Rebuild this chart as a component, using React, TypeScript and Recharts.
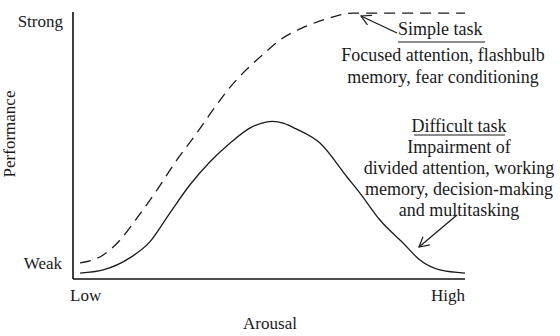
import { LineChart, Line, XAxis, YAxis, Customized } from 'recharts';

// Arousal (0 = low, 100 = high) against performance (0 = weak, 100 = strong)
const simpleArousal = [1.8, 7.7, 12, 16.3, 21.4, 26.5, 31.6, 35.7, 39.5, 43.4, 47.7, 52.8, 59.7, 65.6, 71.4, 85, 100];
const simplePerformance = [6, 9, 14.6, 22.8, 33.3, 44.6, 54.7, 63.3, 70.8, 77.2, 83.1, 89.5, 94.8, 97.8, 99.6, 99.6, 99.6];

const difficultArousal = [1.8, 7.7, 14.5, 19.6, 24.7, 29.8, 34.9, 40.1, 45.2, 48, 50.8, 53.8, 56.8, 63, 69.9, 73.2, 78.3, 84.2, 88.5, 93.6, 100];
const difficultPerformance = [2.2, 3.4, 7.9, 13.9, 24.7, 35.2, 43.8, 50.9, 56.6, 58.3, 59, 58.3, 56.3, 50.9, 38.2, 32.2, 22.1, 13.5, 7.1, 3.4, 2.2];

const simpleNotes = ['Focused attention, flashbulb', 'memory, fear conditioning'];
const difficultNotes = ['Impairment of', 'divided attention, working', 'memory, decision-making', 'and multitasking'];

const simpleTask = simpleArousal.map((arousal, i) => ({ arousal, performance: simplePerformance[i] }));
const difficultTask = difficultArousal.map((arousal, i) => ({ arousal, performance: difficultPerformance[i] }));

const FONT = "'Liberation Serif', 'Times New Roman', serif";
const INK = '#1a1a1a';

const label = (size: number) => ({ fontFamily: FONT, fontSize: size, fill: INK });

function Arrow({ x1, y1, x2, y2 }: { x1: number; y1: number; x2: number; y2: number }) {
  // open arrowhead at (x2, y2)
  const ang = Math.atan2(y1 - y2, x1 - x2);
  const len = 11;
  const spread = 0.5;
  const a = [x2 + len * Math.cos(ang + spread), y2 + len * Math.sin(ang + spread)];
  const b = [x2 + len * Math.cos(ang - spread), y2 + len * Math.sin(ang - spread)];
  return (
    <g stroke={INK} strokeWidth={1.2} fill="none">
      <line x1={x1} y1={y1} x2={x2} y2={y2} />
      <polyline points={`${a[0]},${a[1]} ${x2},${y2} ${b[0]},${b[1]}`} />
    </g>
  );
}

function Annotations() {
  return (
    <g>
      <text x={63} y={27} style={label(17)} textAnchor="end">Strong</text>
      <text x={62} y={269} style={label(17)} textAnchor="end">Weak</text>
      <text x={70} y={301} style={label(17)}>Low</text>
      <text x={465} y={301} style={label(17)} textAnchor="end">High</text>
      <text x={270} y={329} style={label(17)} textAnchor="middle">Arousal</text>
      <text x={15} y={134} style={label(17)} textAnchor="middle" transform="rotate(-90, 15, 134)">Performance</text>

      <text x={398} y={35} style={label(18)}>Simple task</text>
      <line x1={398} y1={42} x2={485} y2={42} stroke={INK} strokeWidth={1} />
      {simpleNotes.map((t, i) => (
        <text key={t} x={443} y={61 + i * 22} style={label(18)} textAnchor="middle">{t}</text>
      ))}
      <Arrow x1={397} y1={33} x2={361} y2={16} />

      <text x={459} y={132} style={label(18)} textAnchor="middle">Difficult task</text>
      <line x1={414} y1={135} x2={505} y2={135} stroke={INK} strokeWidth={1} />
      {difficultNotes.map((t, i) => (
        <text key={t} x={459} y={153 + i * 21} style={label(18)} textAnchor="middle">{t}</text>
      ))}
      <Arrow x1={457} y1={215} x2={419} y2={247} />
    </g>
  );
}

export default function App() {
  return (
    <div style={{ position: 'absolute', left: 0, top: 0, background: '#fff' }}>
      <LineChart width={560} height={336} margin={{ top: 12, right: 95, bottom: 55, left: 71 }}>
        <XAxis
          type="number"
          dataKey="arousal"
          domain={[0, 100]}
          tick={false}
          tickLine={false}
          height={2}
          axisLine={{ stroke: '#111', strokeWidth: 1.6 }}
        />
        <YAxis
          type="number"
          dataKey="performance"
          domain={[0, 100]}
          tick={false}
          tickLine={false}
          width={2}
          axisLine={{ stroke: '#111', strokeWidth: 1.6 }}
        />
        <Line
          data={simpleTask}
          dataKey="performance"
          type="monotone"
          stroke={INK}
          strokeWidth={1.3}
          strokeDasharray="11 7"
          dot={false}
          activeDot={false}
          isAnimationActive={false}
        />
        <Line
          data={difficultTask}
          dataKey="performance"
          type="monotone"
          stroke={INK}
          strokeWidth={1.3}
          dot={false}
          activeDot={false}
          isAnimationActive={false}
        />
        <Customized component={Annotations} />
      </LineChart>
    </div>
  );
}
